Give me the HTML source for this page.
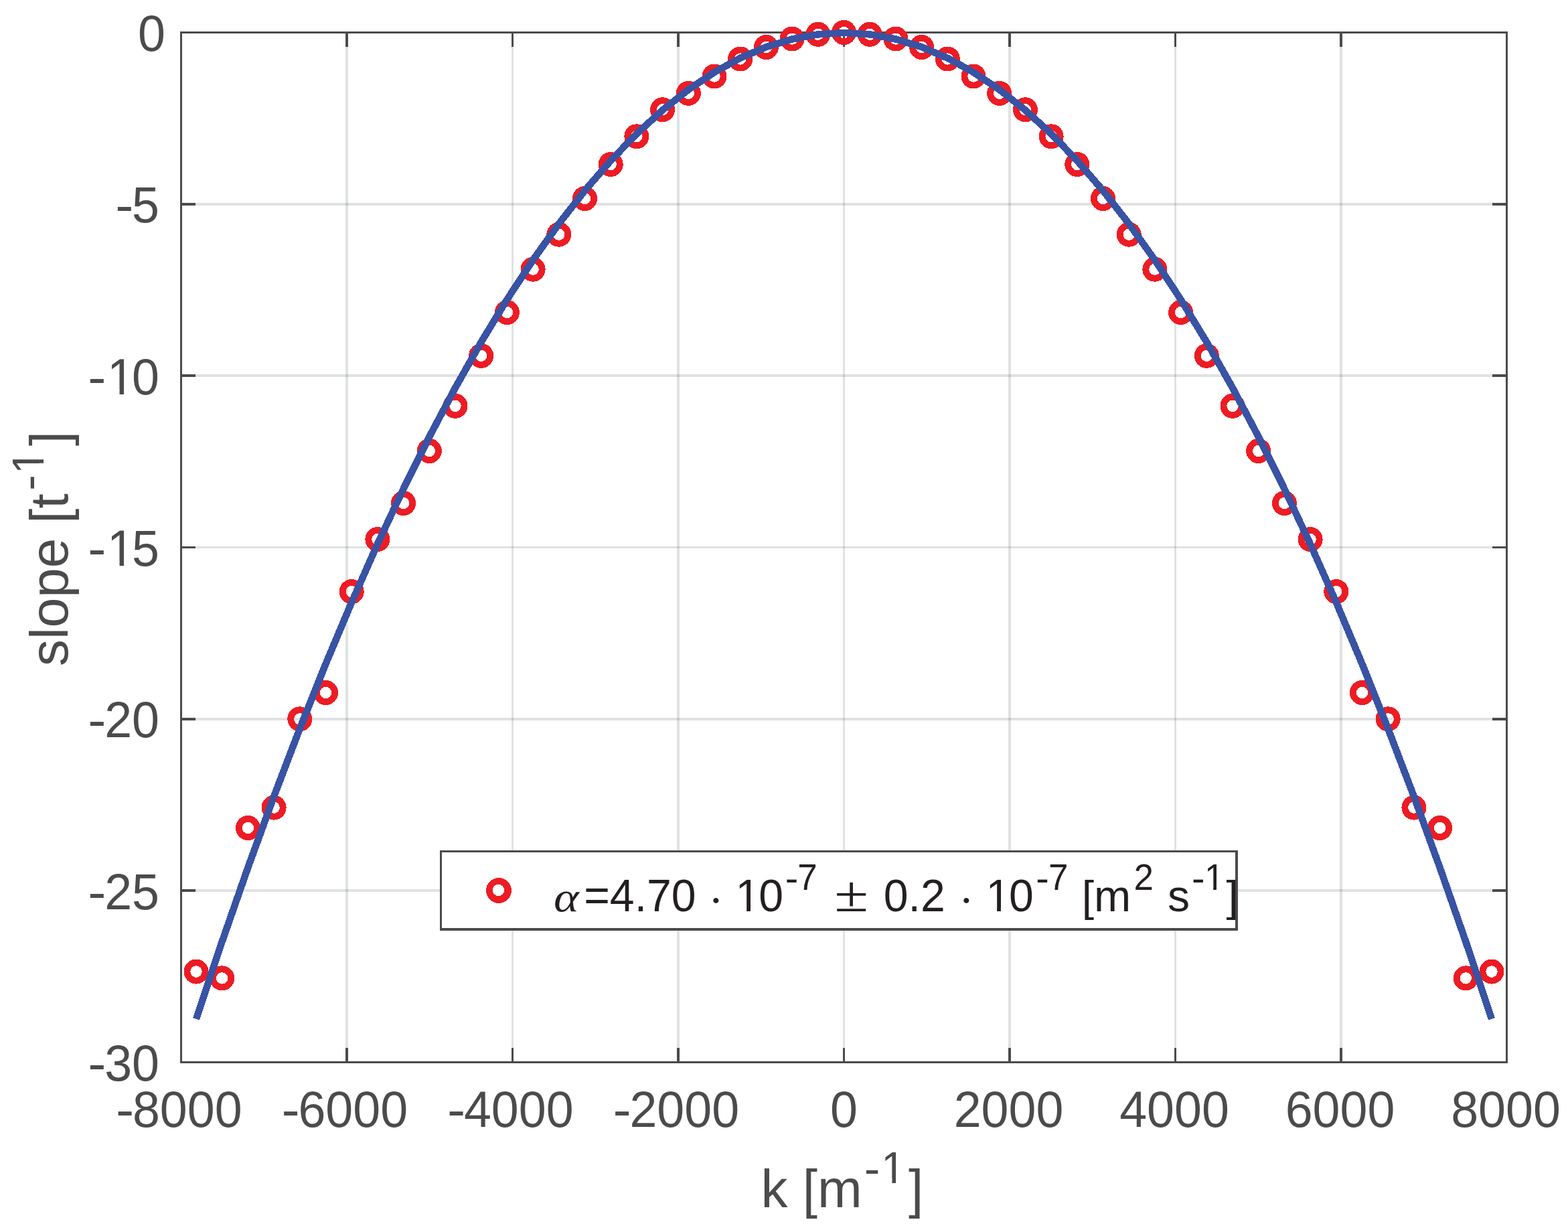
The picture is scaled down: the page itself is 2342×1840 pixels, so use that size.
<!DOCTYPE html>
<html lang="en"><head><meta charset="utf-8"><title>slope vs k</title>
<style>
html,body{margin:0;padding:0;background:#fff;}
body{width:2342px;height:1840px;overflow:hidden;}
svg{display:block;}
text{font-family:"Liberation Sans",sans-serif;}
.t{font-size:73.60px;fill:#4b4b4d;}
.l{font-size:80.00px;fill:#4b4b4d;}
.g{font-size:66.20px;fill:#231f20;}
</style></head><body>
<svg xmlns="http://www.w3.org/2000/svg" width="2342" height="1840" viewBox="0 0 2342 1840">
<rect x="0" y="0" width="2342" height="1840" fill="#ffffff"/>
<g fill="#30343e" fill-opacity="0.150">
<rect x="516" y="47" width="4" height="1541"/>
<rect x="764" y="47" width="3" height="1541"/>
<rect x="1011" y="47" width="4" height="1541"/>
<rect x="1259" y="47" width="3" height="1541"/>
<rect x="1506" y="47" width="4" height="1541"/>
<rect x="1754" y="47" width="3" height="1541"/>
<rect x="2001" y="47" width="4" height="1541"/>
<rect x="269" y="1328" width="1983" height="4"/>
<rect x="269" y="1072" width="1983" height="4"/>
<rect x="269" y="816" width="1983" height="3"/>
<rect x="269" y="559" width="1983" height="4"/>
<rect x="269" y="303" width="1983" height="4"/>
</g>
<g fill="#4b4b4d">
<rect x="269" y="47" width="3" height="1541"/>
<rect x="2249" y="47" width="3" height="1541"/>
<rect x="269" y="47" width="1983" height="3"/>
<rect x="269" y="1585" width="1983" height="3"/>
<rect x="516" y="1565" width="4" height="23"/>
<rect x="516" y="47" width="4" height="23"/>
<rect x="764" y="1565" width="3" height="23"/>
<rect x="764" y="47" width="3" height="23"/>
<rect x="1011" y="1565" width="4" height="23"/>
<rect x="1011" y="47" width="4" height="23"/>
<rect x="1259" y="1565" width="3" height="23"/>
<rect x="1259" y="47" width="3" height="23"/>
<rect x="1506" y="1565" width="4" height="23"/>
<rect x="1506" y="47" width="4" height="23"/>
<rect x="1754" y="1565" width="3" height="23"/>
<rect x="1754" y="47" width="3" height="23"/>
<rect x="2001" y="1565" width="4" height="23"/>
<rect x="2001" y="47" width="4" height="23"/>
<rect x="269" y="1328" width="23" height="4"/>
<rect x="2229" y="1328" width="23" height="4"/>
<rect x="269" y="1072" width="23" height="4"/>
<rect x="2229" y="1072" width="23" height="4"/>
<rect x="269" y="816" width="23" height="3"/>
<rect x="2229" y="816" width="23" height="3"/>
<rect x="269" y="559" width="23" height="4"/>
<rect x="2229" y="559" width="23" height="4"/>
<rect x="269" y="303" width="23" height="4"/>
<rect x="2229" y="303" width="23" height="4"/>
</g>
<text class="t" transform="translate(186.63 1683.00) scale(1.1100 1.0350)" x="-12.25" style="font-size:73.60px;">-</text><text class="t" transform="translate(197.89 1683.00) scale(1.0000 1.0350)" style="font-size:73.60px;">8000</text>
<text class="t" transform="translate(434.13 1683.00) scale(1.1100 1.0350)" x="-12.25" style="font-size:73.60px;">-</text><text class="t" transform="translate(445.39 1683.00) scale(1.0000 1.0350)" style="font-size:73.60px;">6000</text>
<text class="t" transform="translate(681.63 1683.00) scale(1.1100 1.0350)" x="-12.25" style="font-size:73.60px;">-</text><text class="t" transform="translate(692.89 1683.00) scale(1.0000 1.0350)" style="font-size:73.60px;">4000</text>
<text class="t" transform="translate(929.13 1683.00) scale(1.1100 1.0350)" x="-12.25" style="font-size:73.60px;">-</text><text class="t" transform="translate(940.39 1683.00) scale(1.0000 1.0350)" style="font-size:73.60px;">2000</text>
<text class="t" transform="translate(1240.03 1683.00) scale(1.0000 1.0350)" style="font-size:73.60px;">0</text>
<text class="t" transform="translate(1424.63 1683.00) scale(1.0000 1.0350)" style="font-size:73.60px;">2000</text>
<text class="t" transform="translate(1672.13 1683.00) scale(1.0000 1.0350)" style="font-size:73.60px;">4000</text>
<text class="t" transform="translate(1919.63 1683.00) scale(1.0000 1.0350)" style="font-size:73.60px;">6000</text>
<text class="t" transform="translate(2167.13 1683.00) scale(1.0000 1.0350)" style="font-size:73.60px;">8000</text>
<text class="t" transform="translate(206.07 76.00) scale(1.0000 1.0350)" style="font-size:73.60px;">0</text>
<text class="t" transform="translate(185.81 332.00) scale(1.1100 1.0350)" x="-12.25" style="font-size:73.60px;">-</text><text class="t" transform="translate(197.07 332.00) scale(1.0000 1.0350)" style="font-size:73.60px;">5</text>
<text class="t" transform="translate(144.88 589.00) scale(1.1100 1.0350)" x="-12.25" style="font-size:73.60px;">-</text><clipPath id="c1"><rect x="-4000.00" y="-4000.00" width="8000.00" height="3993.30"/><rect x="22.41" y="-7.70" width="6.50" height="7.90"/><rect x="-4000.00" y="-7.70" width="4008.51" height="4000.00"/><rect x="42.24" y="-7.70" width="4000.00" height="4000.00"/></clipPath><text class="t" transform="translate(156.13 589.00) scale(1.0000 1.0350)" clip-path="url(#c1)" style="font-size:73.60px;"><tspan dx="3.90">1</tspan><tspan dx="-3.90">0</tspan></text>
<text class="t" transform="translate(144.88 845.00) scale(1.1100 1.0350)" x="-12.25" style="font-size:73.60px;">-</text><clipPath id="c2"><rect x="-4000.00" y="-4000.00" width="8000.00" height="3993.30"/><rect x="22.41" y="-7.70" width="6.50" height="7.90"/><rect x="-4000.00" y="-7.70" width="4008.51" height="4000.00"/><rect x="42.24" y="-7.70" width="4000.00" height="4000.00"/></clipPath><text class="t" transform="translate(156.13 845.00) scale(1.0000 1.0350)" clip-path="url(#c2)" style="font-size:73.60px;"><tspan dx="3.90">1</tspan><tspan dx="-3.90">5</tspan></text>
<text class="t" transform="translate(144.88 1101.00) scale(1.1100 1.0350)" x="-12.25" style="font-size:73.60px;">-</text><text class="t" transform="translate(156.13 1101.00) scale(1.0000 1.0350)" style="font-size:73.60px;">20</text>
<text class="t" transform="translate(144.88 1358.00) scale(1.1100 1.0350)" x="-12.25" style="font-size:73.60px;">-</text><text class="t" transform="translate(156.13 1358.00) scale(1.0000 1.0350)" style="font-size:73.60px;">25</text>
<text class="t" transform="translate(144.88 1614.00) scale(1.1100 1.0350)" x="-12.25" style="font-size:73.60px;">-</text><text class="t" transform="translate(156.13 1614.00) scale(1.0000 1.0350)" style="font-size:73.60px;">30</text>
<text class="l" transform="translate(1136.50 1803.00) scale(1.0000 0.9950)">k [m</text>
<text class="l" transform="translate(1302.66 1768.25) scale(1.1100 1.0350)" x="-10.66" style="font-size:64.00px;">-</text><clipPath id="c3"><rect x="-4000.00" y="-4000.00" width="8000.00" height="3994.02"/><rect x="19.09" y="-6.98" width="5.66" height="7.18"/><rect x="-4000.00" y="-6.98" width="4006.88" height="4000.00"/><rect x="36.47" y="-6.98" width="4000.00" height="4000.00"/></clipPath><text class="l" transform="translate(1313.31 1767.00) scale(1.0000 1.0350)" clip-path="url(#c3)" style="font-size:64.00px;"><tspan dx="3.00">1</tspan></text>
<text class="l" transform="translate(1357.00 1803.00) scale(1.0000 0.9950)">]</text>
<text class="l" transform="translate(100.90 995.10) rotate(-90) scale(1.0000 0.9950)">slope [t</text>
<text class="l" transform="translate(66.15 720.84) rotate(-90) scale(1.1100 1.0350)" x="-10.66" style="font-size:64.00px;">-</text><clipPath id="c4"><rect x="-4000.00" y="-4000.00" width="8000.00" height="3994.02"/><rect x="18.39" y="-6.98" width="5.66" height="7.18"/><rect x="-4000.00" y="-6.98" width="4006.18" height="4000.00"/><rect x="35.77" y="-6.98" width="4000.00" height="4000.00"/></clipPath><text class="l" transform="translate(64.90 710.19) rotate(-90) scale(1.0000 1.0350)" clip-path="url(#c4)" style="font-size:64.00px;"><tspan dx="2.30">1</tspan></text>
<text class="l" transform="translate(100.90 666.20) rotate(-90) scale(1.0000 0.9950)">]</text>
<g fill="none" stroke="#ed1c24" stroke-width="9.80" shape-rendering="crispEdges">
<circle cx="293.00" cy="1451.10" r="13.60"/>
<circle cx="331.70" cy="1460.90" r="13.60"/>
<circle cx="370.40" cy="1236.50" r="13.60"/>
<circle cx="409.10" cy="1206.10" r="13.60"/>
<circle cx="447.80" cy="1073.80" r="13.60"/>
<circle cx="486.50" cy="1034.50" r="13.60"/>
<circle cx="525.20" cy="883.60" r="13.60"/>
<circle cx="563.90" cy="805.50" r="13.60"/>
<circle cx="602.60" cy="751.50" r="13.60"/>
<circle cx="641.30" cy="673.50" r="13.60"/>
<circle cx="680.00" cy="606.30" r="13.60"/>
<circle cx="718.70" cy="531.30" r="13.60"/>
<circle cx="757.40" cy="466.60" r="13.60"/>
<circle cx="796.10" cy="402.20" r="13.60"/>
<circle cx="834.80" cy="350.20" r="13.60"/>
<circle cx="873.50" cy="296.50" r="13.60"/>
<circle cx="912.20" cy="245.50" r="13.60"/>
<circle cx="950.90" cy="203.80" r="13.60"/>
<circle cx="989.60" cy="163.80" r="13.60"/>
<circle cx="1028.30" cy="139.40" r="13.60"/>
<circle cx="1067.00" cy="114.00" r="13.60"/>
<circle cx="1105.70" cy="88.00" r="13.60"/>
<circle cx="1144.40" cy="70.50" r="13.60"/>
<circle cx="1183.10" cy="58.00" r="13.60"/>
<circle cx="1221.80" cy="51.30" r="13.60"/>
<circle cx="1260.50" cy="48.50" r="13.60"/>
<circle cx="1299.20" cy="51.30" r="13.60"/>
<circle cx="1337.90" cy="58.00" r="13.60"/>
<circle cx="1376.60" cy="70.50" r="13.60"/>
<circle cx="1415.30" cy="88.00" r="13.60"/>
<circle cx="1454.00" cy="114.00" r="13.60"/>
<circle cx="1492.70" cy="139.40" r="13.60"/>
<circle cx="1531.40" cy="163.80" r="13.60"/>
<circle cx="1570.10" cy="203.80" r="13.60"/>
<circle cx="1608.80" cy="245.50" r="13.60"/>
<circle cx="1647.50" cy="296.50" r="13.60"/>
<circle cx="1686.20" cy="350.20" r="13.60"/>
<circle cx="1724.90" cy="402.20" r="13.60"/>
<circle cx="1763.60" cy="466.60" r="13.60"/>
<circle cx="1802.30" cy="531.30" r="13.60"/>
<circle cx="1841.00" cy="606.30" r="13.60"/>
<circle cx="1879.70" cy="673.50" r="13.60"/>
<circle cx="1918.40" cy="751.50" r="13.60"/>
<circle cx="1957.10" cy="805.50" r="13.60"/>
<circle cx="1995.80" cy="883.60" r="13.60"/>
<circle cx="2034.50" cy="1034.50" r="13.60"/>
<circle cx="2073.20" cy="1073.80" r="13.60"/>
<circle cx="2111.90" cy="1206.10" r="13.60"/>
<circle cx="2150.60" cy="1236.50" r="13.60"/>
<circle cx="2189.30" cy="1460.90" r="13.60"/>
<circle cx="2228.00" cy="1451.10" r="13.60"/>
</g>
<polyline fill="none" stroke="#3953a4" stroke-width="10.50" stroke-linejoin="round" shape-rendering="crispEdges" points="293.00,1521.80 331.70,1406.33 370.40,1295.58 409.10,1189.54 447.80,1088.21 486.50,991.59 525.20,899.69 563.90,812.50 602.60,730.02 641.30,652.26 680.00,579.21 718.70,510.87 757.40,447.25 796.10,388.33 834.80,334.13 873.50,284.65 912.20,239.88 950.90,199.81 989.60,164.47 1028.30,133.83 1067.00,107.91 1105.70,86.70 1144.40,70.21 1183.10,58.43 1221.80,51.36 1260.50,49.00 1299.20,51.36 1337.90,58.43 1376.60,70.21 1415.30,86.70 1454.00,107.91 1492.70,133.83 1531.40,164.47 1570.10,199.81 1608.80,239.88 1647.50,284.65 1686.20,334.13 1724.90,388.33 1763.60,447.25 1802.30,510.87 1841.00,579.21 1879.70,652.26 1918.40,730.02 1957.10,812.50 1995.80,899.69 2034.50,991.59 2073.20,1088.21 2111.90,1189.54 2150.60,1295.58 2189.30,1406.33 2228.00,1521.80"/>
<rect x="657" y="1270" width="1192" height="120" fill="#ffffff"/>
<g fill="#4b4b4d">
<rect x="657" y="1270" width="3" height="120"/>
<rect x="1845" y="1270" width="4" height="120"/>
<rect x="657" y="1270" width="1192" height="3"/>
<rect x="657" y="1386" width="1192" height="4"/>
</g>
<path d="M725.95 1330.00a19.00 19.00 0 1 0 38.00 0a19.00 19.00 0 1 0 -38.00 0zM735.70 1329.45a8.70 8.70 0 1 0 17.40 0a8.70 8.70 0 1 0 -17.40 0z" fill="#ed1c24" fill-rule="evenodd" shape-rendering="crispEdges"/>
<text class="g" transform="translate(827.00 1361.00) scale(1.1400 1.0000)" style="font-family:'Liberation Serif',serif;font-style:italic;font-size:63.00px;">α</text>
<text class="g" transform="translate(872.20 1361.00) scale(1.0000 1.0450)">=4.70</text>
<text class="g" transform="translate(1057.90 1367.00)" style="font-family:'Liberation Serif',serif;font-size:68.00px;">·</text>
<clipPath id="c5"><rect x="-4000.00" y="-4000.00" width="8000.00" height="3993.85"/><rect x="18.75" y="-7.15" width="5.85" height="7.35"/><rect x="-4000.00" y="-7.15" width="4006.14" height="4000.00"/><rect x="36.68" y="-7.15" width="4000.00" height="4000.00"/></clipPath><text class="g" transform="translate(1096.40 1361.00) scale(1.0000 1.0450)" clip-path="url(#c5)" style="font-size:66.20px;"><tspan dx="2.10">1</tspan><tspan dx="-2.10">0</tspan></text>
<text class="g" transform="translate(1182.52 1330.70) scale(1.1100 1.0450)" x="-8.82" style="font-size:52.96px;">-</text><text class="g" transform="translate(1191.34 1329.00) scale(1.0000 1.0450)" style="font-size:52.96px;">7</text>
<text class="g" transform="translate(1246.15 1361.20) scale(1.1580 0.9520)" style="font-family:'Liberation Serif',serif;font-size:80.00px;">±</text>
<text class="g" transform="translate(1319.70 1361.00) scale(1.0000 1.0450)">0.2</text>
<text class="g" transform="translate(1431.90 1367.00)" style="font-family:'Liberation Serif',serif;font-size:68.00px;">·</text>
<clipPath id="c6"><rect x="-4000.00" y="-4000.00" width="8000.00" height="3993.85"/><rect x="18.75" y="-7.15" width="5.85" height="7.35"/><rect x="-4000.00" y="-7.15" width="4006.14" height="4000.00"/><rect x="36.68" y="-7.15" width="4000.00" height="4000.00"/></clipPath><text class="g" transform="translate(1470.30 1361.00) scale(1.0000 1.0450)" clip-path="url(#c6)" style="font-size:66.20px;"><tspan dx="2.10">1</tspan><tspan dx="-2.10">0</tspan></text>
<text class="g" transform="translate(1557.12 1330.70) scale(1.1100 1.0450)" x="-8.82" style="font-size:52.96px;">-</text><text class="g" transform="translate(1565.94 1329.00) scale(1.0000 1.0450)" style="font-size:52.96px;">7</text>
<text class="g" transform="translate(1615.70 1361.00) scale(1.0000 0.9850)">[</text>
<text class="g" transform="translate(1634.10 1361.00) scale(1.0000 1.0100)">m</text>
<text class="g" transform="translate(1693.50 1329.00) scale(1.0000 1.0450)" style="font-size:52.96px;">2</text>
<text class="g" transform="translate(1744.00 1361.00) scale(1.0000 1.0100)">s</text>
<text class="g" transform="translate(1789.82 1330.70) scale(1.1100 1.0450)" x="-8.82" style="font-size:52.96px;">-</text><clipPath id="c7"><rect x="-4000.00" y="-4000.00" width="8000.00" height="3994.84"/><rect x="13.62" y="-6.16" width="4.68" height="6.36"/><rect x="-4000.00" y="-6.16" width="4003.33" height="4000.00"/><rect x="28.17" y="-6.16" width="4000.00" height="4000.00"/></clipPath><text class="g" transform="translate(1798.64 1329.00) scale(1.0000 1.0450)" clip-path="url(#c7)" style="font-size:52.96px;"><tspan dx="0.30">1</tspan></text>
<text class="g" transform="translate(1831.55 1361.00) scale(1.0000 0.9850)">]</text>
</svg>
</body></html>
